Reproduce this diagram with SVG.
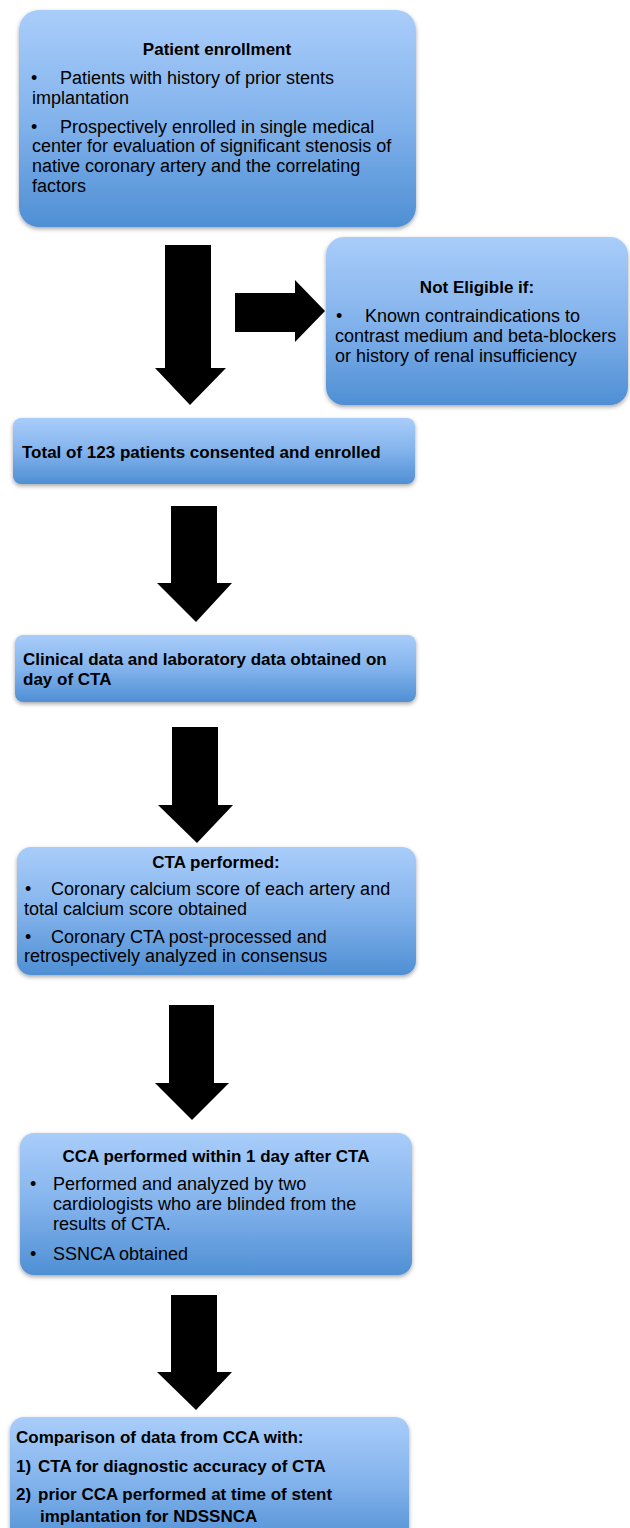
<svg xmlns="http://www.w3.org/2000/svg" width="630" height="1528" viewBox="0 0 630 1528">
<defs>
<linearGradient id="g" x1="0" y1="0" x2="0" y2="1">
<stop offset="0" stop-color="#a9cdfa"/>
<stop offset="0.5" stop-color="#83b3ec"/>
<stop offset="1" stop-color="#4f8fd4"/>
</linearGradient>
<filter id="sh" x="-5%" y="-5%" width="110%" height="120%">
<feDropShadow dx="0" dy="2" stdDeviation="2" flood-color="#000" flood-opacity="0.35"/>
</filter>
</defs>
<style>
.box{fill:url(#g);filter:url(#sh)}
text{font-family:"Liberation Sans",Arial,sans-serif;fill:#000}
.r{font-size:18px}
.b{font-size:17px;font-weight:bold}
.c{text-anchor:middle}
.arr{fill:#000}
</style>
<rect width="630" height="1528" fill="#fff"/>
<g id="connectors">
<polygon class="arr" points="165,245 211,245 211,368 226,368 190,405 155,368 165,368"/>
<polygon class="arr" points="235,293 295,293 295,280 325,311 295,342 295,332 235,332"/>
<polygon class="arr" points="171,506 217,506 217,583 232,583 196,622 157,583 171,583"/>
<polygon class="arr" points="172,727 218,727 218,805 233,805 197,843 158,805 172,805"/>
<polygon class="arr" points="169,1005 214,1005 214,1083 229,1083 192,1120 155,1083 169,1083"/>
<polygon class="arr" points="171,1295 217,1295 217,1372 232,1372 196,1410 157,1372 171,1372"/>
</g>
<g id="enrollment">
<rect class="box" x="19" y="10" width="397" height="217" rx="20"/>
<text class="b c" x="217" y="55">Patient enrollment</text>
<text class="r" x="31" y="84">•</text><text class="r" x="60" y="84">Patients with history of prior stents</text>
<text class="r" x="32" y="104">implantation</text>
<text class="r" x="31" y="133">•</text><text class="r" x="60" y="133">Prospectively enrolled in single medical</text>
<text class="r" x="32" y="152">center for evaluation of significant stenosis of</text>
<text class="r" x="32" y="172">native coronary artery and the correlating</text>
<text class="r" x="32" y="192">factors</text>
</g>
<g id="not-eligible">
<rect class="box" x="326" y="237" width="302" height="168" rx="18"/>
<text class="b c" x="477" y="293">Not Eligible if:</text>
<text class="r" x="336" y="322">•</text><text class="r" x="365" y="322">Known contraindications to</text>
<text class="r" x="335" y="342">contrast medium and beta-blockers</text>
<text class="r" x="335" y="362">or history of renal insufficiency</text>
</g>
<g id="total">
<rect class="box" x="13" y="418" width="402" height="66" rx="8"/>
<text class="b" x="22" y="458">Total of 123 patients consented and enrolled</text>
</g>
<g id="clinical">
<rect class="box" x="15" y="635" width="401" height="67" rx="8"/>
<text class="b" x="23" y="665">Clinical data and laboratory data obtained on</text>
<text class="b" x="23" y="685">day of CTA</text>
</g>
<g id="cta">
<rect class="box" x="17" y="847" width="399" height="128" rx="14"/>
<text class="b c" x="216" y="868">CTA performed:</text>
<text class="r" x="25" y="895">•</text><text class="r" x="51" y="895">Coronary calcium score of each artery and</text>
<text class="r" x="24" y="915">total calcium score obtained</text>
<text class="r" x="25" y="943">•</text><text class="r" x="51" y="943">Coronary CTA post-processed and</text>
<text class="r" x="24" y="962">retrospectively analyzed in consensus</text>
</g>
<g id="cca">
<rect class="box" x="20" y="1133" width="392" height="142" rx="14"/>
<text class="b c" x="216" y="1162">CCA performed within 1 day after CTA</text>
<text class="r" x="30" y="1190">•</text><text class="r" x="53" y="1190">Performed and analyzed by two</text>
<text class="r" x="53" y="1210">cardiologists who are blinded from the</text>
<text class="r" x="53" y="1230">results of CTA.</text>
<text class="r" x="30" y="1260">•</text><text class="r" x="53" y="1260">SSNCA obtained</text>
</g>
<g id="comparison">
<rect class="box" x="10" y="1417" width="399" height="130" rx="14"/>
<text class="b" x="16" y="1443">Comparison of data from CCA with:</text>
<text class="b" x="16" y="1472">1)</text><text class="b" x="38" y="1472">CTA for diagnostic accuracy of CTA</text>
<text class="b" x="16" y="1500">2)</text><text class="b" x="38" y="1500">prior CCA performed at time of stent</text>
<text class="b" x="40" y="1522">implantation for NDSSNCA</text>
</g>
</svg>
